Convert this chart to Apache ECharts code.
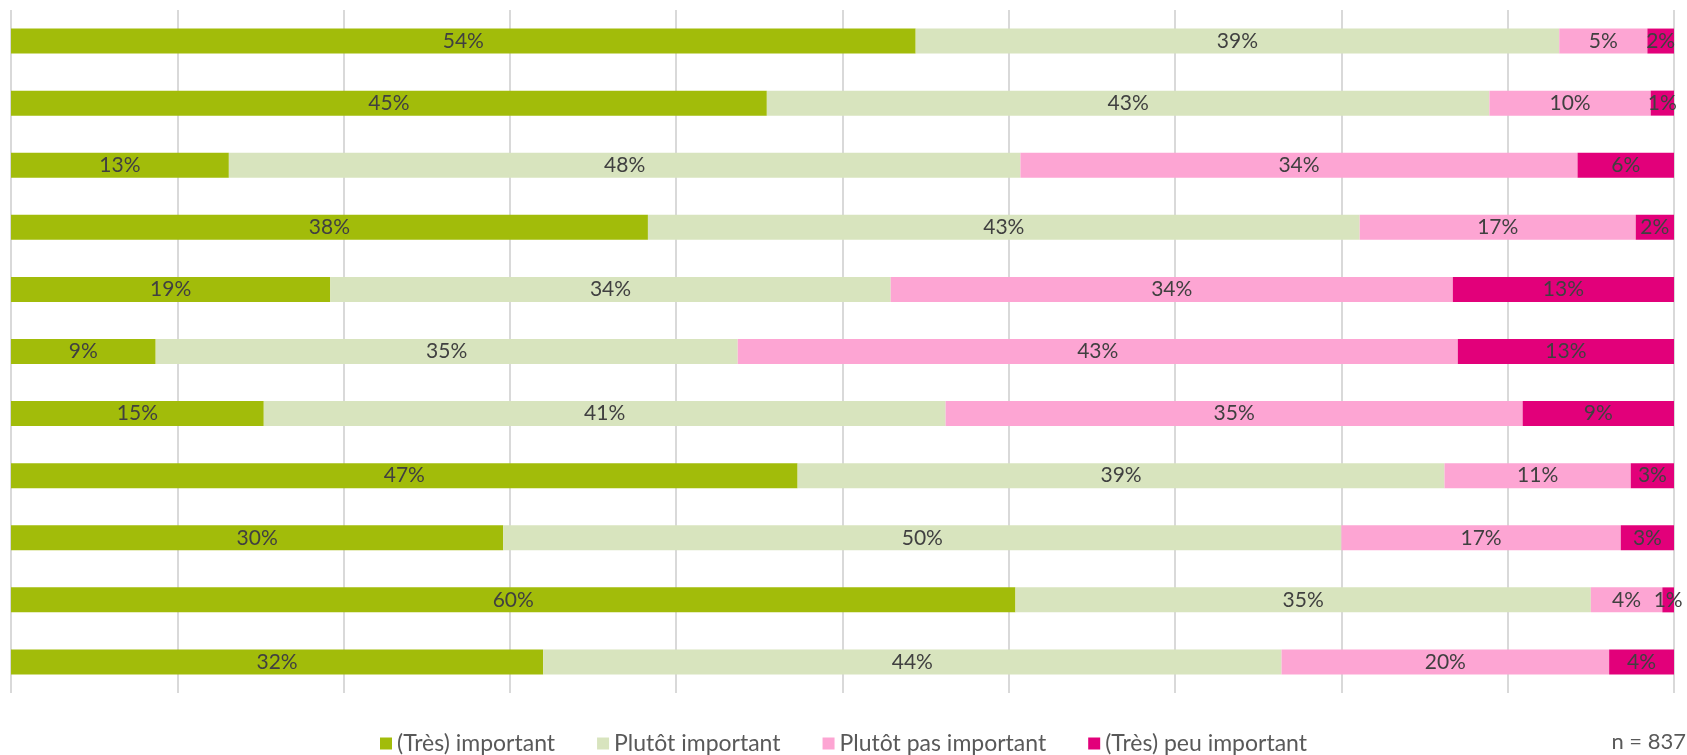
<!DOCTYPE html>
<html>
<head>
<meta charset="utf-8">
<script src="https://cdn.jsdelivr.net/npm/echarts@6/dist/echarts.min.js"></script>
<style>html,body{margin:0;padding:0;background:#fff;}#c{width:1687px;height:755px;}</style>
</head>
<body>
<div id="c"></div>
<script>
const categories = ['1','2','3','4','5','6','7','8','9','10','11'];
const seriesNames = ['(Très) important','Plutôt important','Plutôt pas important','(Très) peu important'];
const tresImportant   = [54.4, 45.45, 13.1, 38.3, 19.2, 8.7, 15.2, 47.3, 29.6, 60.4, 32.0];
const plutotImportant = [38.7, 43.45, 47.6, 42.8, 33.7, 35.0, 41.0, 38.9, 50.4, 34.6, 44.4];
const plutotPas       = [5.3, 9.7, 33.5, 16.6, 33.8, 43.3, 34.7, 11.2, 16.8, 4.3, 19.7];
const tresPeu         = [1.6, 1.4, 5.8, 2.3, 13.3, 13.0, 9.1, 2.6, 3.2, 0.7, 3.9];
const colors = ['#A2BC0A', '#D8E4BE', '#FDA5D3', '#E2007A'];
const noteText = 'n = 837';

const font = 'Lato, "Open Sans", sans-serif';
const dataSets = [tresImportant, plutotImportant, plutotPas, tresPeu];
const chart = echarts.init(document.getElementById('c'));
chart.setOption({
  animation: false,
  grid: {left: 11, right: 13, top: 10, bottom: 62, containLabel: false},
  xAxis: {
    type: 'value', min: 0, max: 100, interval: 10,
    axisLabel: {show: false}, axisLine: {show: false}, axisTick: {show: false},
    splitLine: {show: true, lineStyle: {color: '#D9D9D9', width: 2}}
  },
  yAxis: {
    type: 'category', data: categories, inverse: true,
    axisLabel: {show: false}, axisLine: {show: false}, axisTick: {show: false},
    splitLine: {show: false}
  },
  legend: {
    top: 732, left: 'center', itemWidth: 12, itemHeight: 12, itemGap: 42,
    icon: 'rect', padding: 0,
    textStyle: {color: '#595959', fontSize: 23, fontFamily: font},
    data: seriesNames
  },
  graphic: [{
    type: 'text', right: 1, top: 731,
    style: {text: noteText, fill: '#595959', fontSize: 22, fontFamily: font}
  }],
  series: seriesNames.map((n, i) => ({
    name: n, type: 'bar', stack: 'total', barWidth: 25,
    itemStyle: {color: colors[i]},
    label: {
      show: true, position: 'inside', color: '#404040', fontSize: 21, fontFamily: font,
      formatter: p => Math.round(p.value) + '%'
    },
    data: dataSets[i]
  }))
});
</script>
</body>
</html>
